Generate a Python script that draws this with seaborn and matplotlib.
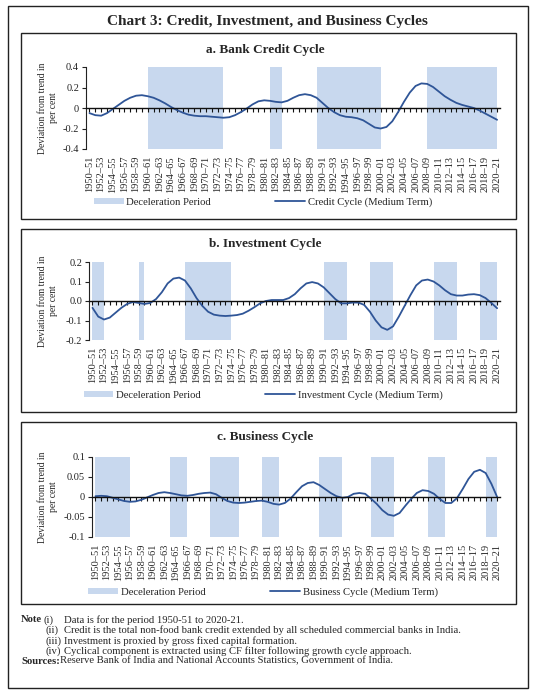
import matplotlib
matplotlib.use("Agg")
import matplotlib.pyplot as plt
import numpy as np
import pandas as pd
import seaborn as sns
from matplotlib.lines import Line2D
from matplotlib.patches import Patch, Rectangle

# 0. Data
years = [f"{y}–{str(y + 1)[-2:]}" for y in range(1950, 2021)]

credit_cycle = [
    -0.05, -0.07, -0.075, -0.05, -0.01, 0.03, 0.07, 0.10, 0.12, 0.125,
    0.115, 0.10, 0.075, 0.045, 0.01, -0.02, -0.045, -0.065, -0.075, -0.08,
    -0.08, -0.085, -0.09, -0.095, -0.09, -0.07, -0.04, -0.005, 0.035, 0.065,
    0.075, 0.07, 0.06, 0.055, 0.07, 0.10, 0.125, 0.135, 0.125, 0.10,
    0.05, 0.0, -0.04, -0.07, -0.085, -0.09, -0.10, -0.12, -0.155, -0.19,
    -0.20, -0.185, -0.13, -0.04, 0.06, 0.15, 0.215, 0.24, 0.235, 0.205,
    0.16, 0.115, 0.08, 0.05, 0.03, 0.015, 0.0, -0.025, -0.055, -0.085,
    -0.115,
]
investment_cycle = [
    -0.035, -0.08, -0.095, -0.085, -0.06, -0.035, -0.015, -0.005, -0.01, -0.015,
    -0.01, 0.01, 0.045, 0.09, 0.115, 0.12, 0.105, 0.065, 0.015, -0.025,
    -0.055, -0.07, -0.075, -0.077, -0.075, -0.072, -0.065, -0.05, -0.032, -0.012,
    0.0, 0.005, 0.005, 0.005, 0.015, 0.035, 0.065, 0.09, 0.097, 0.09,
    0.07, 0.04, 0.01, -0.012, -0.012, -0.008, -0.008, -0.02, -0.055, -0.10,
    -0.135, -0.148, -0.13, -0.08, -0.025, 0.03, 0.08, 0.105, 0.11, 0.10,
    0.08, 0.055, 0.035, 0.028, 0.028, 0.033, 0.035, 0.03, 0.015, -0.01,
    -0.037,
]
business_cycle = [
    0.002, 0.003, 0.002, -0.002, -0.006, -0.01, -0.012, -0.011, -0.007, -0.001,
    0.005, 0.01, 0.012, 0.01, 0.007, 0.004, 0.003, 0.005, 0.008, 0.01,
    0.011, 0.007, -0.002, -0.01, -0.014, -0.015, -0.014, -0.012, -0.01, -0.009,
    -0.012, -0.017, -0.019, -0.015, -0.004, 0.012, 0.027, 0.035, 0.037, 0.03,
    0.02, 0.01, 0.002, -0.002, 0.0, 0.008, 0.01, 0.008, -0.004, -0.017,
    -0.033, -0.044, -0.047, -0.04, -0.022, -0.005, 0.01, 0.017, 0.015, 0.008,
    -0.005, -0.015, -0.015, -0.003, 0.02, 0.045, 0.063, 0.068, 0.06, 0.033,
    0.0,
]

credit_decel = [("1960–61", "1973–74"), ("1981–82", "1983–84"),
                ("1989–90", "2000–01"), ("2008–09", "2020–21")]
investment_decel = [("1950–51", "1952–53"), ("1958–59", "1959–60"),
                    ("1966–67", "1974–75"), ("1990–91", "1994–95"),
                    ("1998–99", "2002–03"), ("2009–10", "2013–14"),
                    ("2017–18", "2020–21")]
business_decel = [("1950–51", "1956–57"), ("1963–64", "1966–67"),
                  ("1970–71", "1975–76"), ("1979–80", "1982–83"),
                  ("1989–90", "1993–94"), ("1998–99", "2002–03"),
                  ("2008–09", "2011–12"), ("2018–19", "2020–21")]

credit_ticks = [-0.4, -0.2, 0, 0.2, 0.4]
credit_ticklabels = ["-0.4", "-0.2", "0", "0.2", "0.4"]
investment_ticks = [-0.2, -0.1, 0, 0.1, 0.2]
investment_ticklabels = ["-0.2", "-0.1", "0.0", "0.1", "0.2"]
business_ticks = [-0.1, -0.05, 0, 0.05, 0.1]
business_ticklabels = ["-0.1", "-0.05", "0", "0.05", "0.1"]

notes = [
    ("(i)", "Data is for the period 1950-51 to 2020-21."),
    ("(ii)", "Credit is the total non-food bank credit extended by all scheduled commercial banks in India."),
    ("(iii)", "Investment is proxied by gross fixed capital formation."),
    ("(iv)", "Cyclical component is extracted using CF filter following growth cycle approach."),
]
sources = "Reserve Bank of India and National Accounts Statistics, Government of India."

# 1. Styling
sns.set_theme(style="white")
plt.rcParams["font.family"] = ["Liberation Serif", "DejaVu Serif"]
LINE = "#2F5597"
SHADE = "#C8D8EE"
W, H = 536, 697

fig = plt.figure(figsize=(W / 100, H / 100), dpi=100)


def fx(px):
    return px / W


def fy(px):
    return 1 - px / H


def box(x0, y0, x1, y1):
    fig.patches.append(Rectangle((fx(x0), fy(y1)), fx(x1) - fx(x0), fy(y0) - fy(y1),
                                 transform=fig.transFigure, fill=False,
                                 edgecolor="#222222", linewidth=1.0))


# outer frame and main title
box(8, 6, 528, 688)
fig.text(fx(267), fy(22), "Chart 3: Credit, Investment, and Business Cycles",
         ha="center", va="center", fontsize=11, fontweight="bold")

panels = [
    dict(title="a. Bank Credit Cycle", values=credit_cycle, decel=credit_decel,
         ticks=credit_ticks, ticklabels=credit_ticklabels,
         label="Credit Cycle (Medium Term)",
         frame=(21, 33, 516, 219), axes=(86, 67, 500, 149), title_y=50, legend_y=202),
    dict(title="b. Investment Cycle", values=investment_cycle, decel=investment_decel,
         ticks=investment_ticks, ticklabels=investment_ticklabels,
         label="Investment Cycle (Medium Term)",
         frame=(21, 229, 516, 412), axes=(89, 262, 500, 340), title_y=244, legend_y=395),
    dict(title="c. Business Cycle", values=business_cycle, decel=business_decel,
         ticks=business_ticks, ticklabels=business_ticklabels,
         label="Business Cycle (Medium Term)",
         frame=(21, 422, 516, 604), axes=(92, 457, 500, 537), title_y=437, legend_y=592),
]

pos = np.arange(len(years))

for p in panels:
    box(*p["frame"])
    fig.text(fx(265), fy(p["title_y"]), p["title"], ha="center", va="center",
             fontsize=9.5, fontweight="bold")

    x0, y0, x1, y1 = p["axes"]
    ax = fig.add_axes([fx(x0), fy(y1), fx(x1) - fx(x0), fy(y0) - fy(y1)])
    ax.set_facecolor("none")

    for start, end in p["decel"]:
        ax.axvspan(years.index(start), years.index(end), color=SHADE, lw=0, zorder=0)

    df = pd.DataFrame({"pos": pos, "value": p["values"]})
    sns.lineplot(data=df, x="pos", y="value", ax=ax, color=LINE, linewidth=1.3,
                 legend=False, zorder=3)

    ax.set_xlim(-0.6, len(years) - 0.5)
    ax.set_ylim(p["ticks"][0], p["ticks"][-1])
    ax.set_yticks(p["ticks"])
    ax.set_yticklabels(p["ticklabels"], fontsize=7.5)
    ax.tick_params(axis="y", direction="out", length=3, width=0.8, pad=2, left=True,
                   colors="#222222")
    ax.set_ylabel("")

    # zero line carrying the category tick marks
    for side in ["top", "right"]:
        ax.spines[side].set_visible(False)
    ax.spines["left"].set_color("#222222")
    ax.spines["left"].set_linewidth(0.8)
    ax.spines["bottom"].set_position(("data", 0))
    ax.spines["bottom"].set_color("#111111")
    ax.spines["bottom"].set_linewidth(1.0)
    ax.spines["bottom"].set_zorder(4)
    ax.set_xticks(pos)
    ax.set_xticklabels([])
    ax.tick_params(axis="x", direction="out", length=2.8, width=0.8, bottom=True,
                   colors="#111111")
    ax.set_xlabel("")

    # year labels at the bottom of the plot
    sec = ax.secondary_xaxis("bottom")
    sec.set_xticks(pos[::2])
    sec.set_xticklabels(years[::2], rotation=90, fontsize=7.5, va="top")
    sec.tick_params(length=0, pad=5)
    sec.spines["bottom"].set_visible(False)

    fig.text(fx(48), fy((y0 + y1) / 2), "Deviation from trend in\nper cent",
             rotation=90, ha="center", va="center", fontsize=6.9, linespacing=1.15)

    handles = [Patch(facecolor=SHADE, edgecolor="none"),
               Line2D([], [], color=LINE, linewidth=1.3)]
    fig.legend(handles, ["Deceleration Period", p["label"]], loc="center",
               bbox_to_anchor=(fx(263), fy(p["legend_y"])), ncol=2, frameon=False,
               fontsize=7.7, handlelength=2.8, handleheight=0.5, handletextpad=0.25,
               columnspacing=6.0, borderpad=0)

# 2. Notes and sources
note_y = [620, 630.5, 641, 651]
num_x = [44, 45, 45, 45]
fig.text(fx(21), fy(note_y[0]), "Note", fontsize=7.7, fontweight="bold", va="center")
for (num, txt), y, nx in zip(notes, note_y, num_x):
    fig.text(fx(nx), fy(y), num, fontsize=7.7, va="center")
    fig.text(fx(64), fy(y), txt, fontsize=7.7, va="center")
fig.text(fx(21), fy(661), "Sources:", fontsize=7.7, fontweight="bold", va="center")
fig.text(fx(60), fy(661), sources, fontsize=7.7, va="center")

fig.savefig("out.png", dpi=100, facecolor="white")
